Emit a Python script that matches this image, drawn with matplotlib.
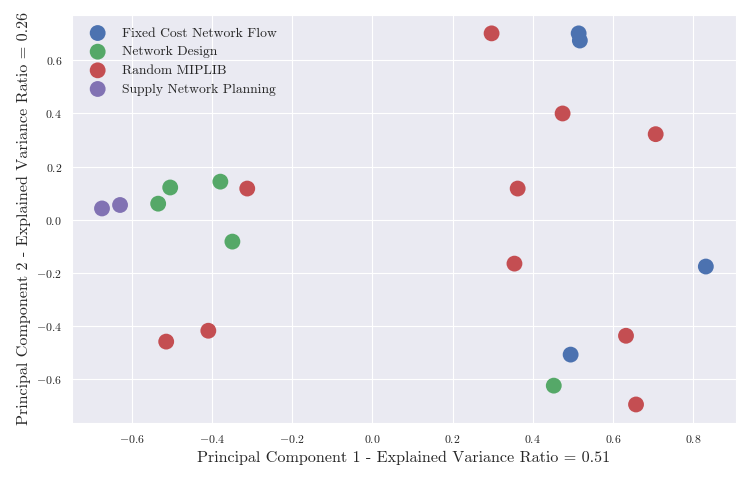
import matplotlib
matplotlib.use("Agg")
import matplotlib.pyplot as plt
import seaborn as sns

sns.set_style("darkgrid")
plt.rcParams['font.family'] = 'serif'
plt.rcParams['font.serif'] = ['cmr10', 'DejaVu Serif']
plt.rcParams['axes.formatter.use_mathtext'] = True
plt.rcParams['mathtext.fontset'] = 'cm'

categories = ["Fixed Cost Network Flow", "Network Design", "Random MIPLIB", "Supply Network Planning"]
colors = ["#4c72b0", "#55a868", "#c44e52", "#8172b3"]

fcnf_x = [0.514, 0.517, 0.831, 0.494]
fcnf_y = [0.702, 0.675, -0.177, -0.509]
nd_x = [-0.504, -0.534, -0.379, -0.349, 0.452]
nd_y = [0.121, 0.060, 0.143, -0.083, -0.626]
rm_x = [0.297, 0.474, 0.706, 0.362, -0.312, 0.354, -0.409, -0.514, 0.632, 0.657]
rm_y = [0.702, 0.400, 0.322, 0.117, 0.117, -0.166, -0.419, -0.460, -0.438, -0.697]
snp_x = [-0.674, -0.629]
snp_y = [0.042, 0.055]

xs = [fcnf_x, nd_x, rm_x, snp_x]
ys = [fcnf_y, nd_y, rm_y, snp_y]

fig = plt.figure(figsize=(7.48, 4.78), dpi=100)
ax = fig.add_axes([0.096, 0.115, 0.888, 0.854])
for name, c, x, y in zip(categories, colors, xs, ys):
    ax.scatter(x, y, s=130, color=c, label=name, edgecolors='none')

ax.set_xlabel("Principal Component 1 - Explained Variance Ratio = 0.51", fontsize=11.6)
ax.set_ylabel("Principal Component 2 - Explained Variance Ratio = 0.26", fontsize=11.6)
ax.tick_params(labelsize=8.5)
ax.legend(loc='upper left', fontsize=9.8, frameon=False, labelspacing=0.45)
fig.savefig("out.png", dpi=100)
